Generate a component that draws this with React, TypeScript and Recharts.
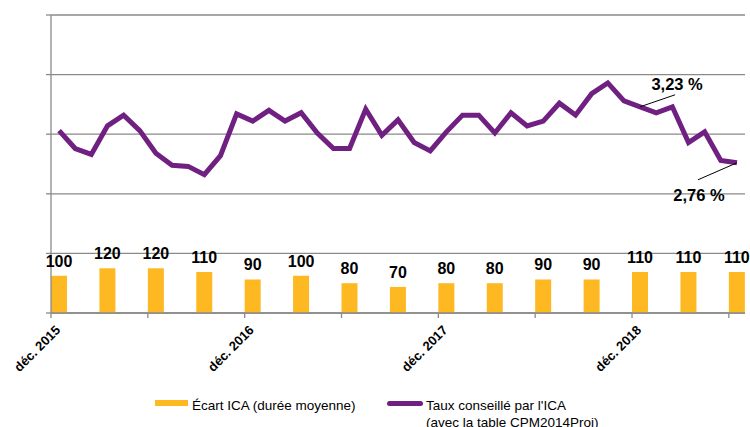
import React from 'react';
import {
  ComposedChart, Bar, Line, XAxis, YAxis, CartesianGrid, Legend, LabelList,
} from 'recharts';

// mois (catégories de l'axe X)
const MOIS = [
  'déc. 2015', 'janv. 2016', 'févr. 2016', 'mars 2016', 'avr. 2016', 'mai 2016', 'juin 2016',
  'juil. 2016', 'août 2016', 'sept. 2016', 'oct. 2016', 'nov. 2016', 'déc. 2016',
  'janv. 2017', 'févr. 2017', 'mars 2017', 'avr. 2017', 'mai 2017', 'juin 2017',
  'juil. 2017', 'août 2017', 'sept. 2017', 'oct. 2017', 'nov. 2017', 'déc. 2017',
  'janv. 2018', 'févr. 2018', 'mars 2018', 'avr. 2018', 'mai 2018', 'juin 2018',
  'juil. 2018', 'août 2018', 'sept. 2018', 'oct. 2018', 'nov. 2018', 'déc. 2018',
  'janv. 2019', 'févr. 2019', 'mars 2019', 'avr. 2019', 'mai 2019', 'juin 2019',
];

// taux conseillé par l'ICA (%), mensuel
const TAUX = [
  3.03, 2.88, 2.83, 3.07, 3.16, 3.03, 2.84, 2.74, 2.73, 2.66, 2.82, 3.17, 3.11,
  3.20, 3.11, 3.18, 3.01, 2.88, 2.88, 3.21, 2.99, 3.12, 2.93, 2.86, 3.02,
  3.16, 3.16, 3.01, 3.18, 3.07, 3.11, 3.26, 3.16, 3.34, 3.43, 3.28, 3.23,
  3.18, 3.23, 2.93, 3.02, 2.78, 2.76,
];

// écart ICA (durée moyenne), trimestriel
const ECART = [100, 120, 120, 110, 90, 100, 80, 70, 80, 80, 90, 90, 110, 110, 110];
const PAS_ECART = 3;

const TAUX_TICKS = [1.5, 2, 2.5, 3, 3.5, 4];
const ETIQUETTES_X = ['déc. 2015', 'déc. 2016', 'déc. 2017', 'déc. 2018'];
// points annotés : index -> côté de l'étiquette
const ANNOTES: Record<number, 'haut' | 'bas'> = { 36: 'haut', 42: 'bas' };

const data = MOIS.map((mois, i) => ({
  mois,
  taux: TAUX[i],
  ecart: i % PAS_ECART === 0 ? ECART[i / PAS_ECART] : null,
}));

const W = 750;
const H = 427;
const MARGIN = { top: 15, right: 5, left: 0, bottom: 0 };
const Y_WIDTH = 51;
const PLOT_W = W - MARGIN.left - MARGIN.right - Y_WIDTH;
const BW = PLOT_W / MOIS.length;

const ORANGE = '#FDB822';
const VIOLET = '#6F2080';
const GRIS = '#8a8a8a';
const FONT = '"Liberation Sans", Arial, sans-serif';

const TickX = ({ x, y, payload }: any) => {
  const bx = x - BW / 2;
  const show = ETIQUETTES_X.includes(payload.value);
  return (
    <g>
      <line x1={bx} y1={y} x2={bx} y2={y + 5} stroke={GRIS} strokeWidth={1.3} />
      {show && (
        <text
          x={bx + 10}
          y={y + 18}
          transform={`rotate(-45 ${bx + 10} ${y + 18})`}
          textAnchor="end"
          fontSize={13}
          fontWeight="bold"
          fill="#000"
        >
          {payload.value}
        </text>
      )}
    </g>
  );
};

const BarLabel = ({ x, y, width, value }: any) => {
  if (value == null) return null;
  return (
    <text x={x + width / 2} y={y - 9} textAnchor="middle" fontSize={16} fontWeight="bold" fill="#000">
      {value}
    </text>
  );
};

const TauxLabel = ({ x, y, index, value }: any) => {
  const side = ANNOTES[index];
  if (!side) return null;
  const txt = `${Number(value).toFixed(2).replace('.', ',')} %`;
  if (side === 'haut') {
    return (
      <g>
        <line x1={x} y1={y} x2={x + 35} y2={y - 12} stroke="#000" strokeWidth={1} />
        <text x={x + 37} y={y - 17} textAnchor="middle" fontSize={16.5} fontWeight="bold" fill="#000">{txt}</text>
      </g>
    );
  }
  return (
    <g>
      <line x1={x} y1={y} x2={x - 39} y2={y + 17} stroke="#000" strokeWidth={1} />
      <text x={x - 38} y={y + 38} textAnchor="middle" fontSize={16.5} fontWeight="bold" fill="#000">{txt}</text>
    </g>
  );
};

const LegendeCustom = () => (
  <div style={{ position: 'relative', width: W, height: 54, fontFamily: FONT, fontSize: 13.5, color: '#000' }}>
    <div style={{ position: 'absolute', left: 155, top: 27, width: 33, height: 6, background: ORANGE }} />
    <div style={{ position: 'absolute', left: 192, top: 24, lineHeight: '17px', whiteSpace: 'nowrap' }}>
      Écart ICA (durée moyenne)
    </div>
    <div style={{ position: 'absolute', left: 387, top: 28, width: 36, height: 5, borderRadius: 3, background: VIOLET }} />
    <div style={{ position: 'absolute', left: 426, top: 24, lineHeight: '17px', whiteSpace: 'nowrap' }}>
      Taux conseillé par l'ICA<br />(avec la table CPM2014Proj)
    </div>
  </div>
);

export default function App() {
  return (
    <div style={{ position: 'absolute', left: 0, top: 0, width: W, height: H, background: '#fff', fontFamily: FONT, overflow: 'hidden' }}>
      <ComposedChart width={W} height={H} data={data} margin={MARGIN}>
        <CartesianGrid yAxisId="taux" vertical={false} stroke={GRIS} strokeWidth={1.3} />
        <XAxis
          dataKey="mois"
          interval={5}
          height={60}
          tick={<TickX />}
          tickLine={false}
          tickSize={0}
          tickMargin={0}
          axisLine={{ stroke: GRIS, strokeWidth: 1.3 }}
        />
        <YAxis
          yAxisId="taux"
          domain={[1.5, 4]}
          ticks={TAUX_TICKS}
          width={Y_WIDTH}
          tickFormatter={() => ''}
          tickSize={5}
          tickLine={{ stroke: GRIS, strokeWidth: 1.3 }}
          axisLine={{ stroke: GRIS, strokeWidth: 1.3 }}
        />
        <YAxis yAxisId="ecart" orientation="right" domain={[0, 800]} hide />
        <Legend verticalAlign="bottom" height={54} content={<LegendeCustom />} wrapperStyle={{ left: 0, width: W }} />
        <Bar yAxisId="ecart" dataKey="ecart" fill={ORANGE} barSize={16} isAnimationActive={false}>
          <LabelList dataKey="ecart" content={<BarLabel />} />
        </Bar>
        <Line
          yAxisId="taux"
          type="linear"
          dataKey="taux"
          stroke={VIOLET}
          strokeWidth={5}
          dot={false}
          isAnimationActive={false}
        >
          <LabelList dataKey="taux" content={<TauxLabel />} />
        </Line>
      </ComposedChart>
    </div>
  );
}
